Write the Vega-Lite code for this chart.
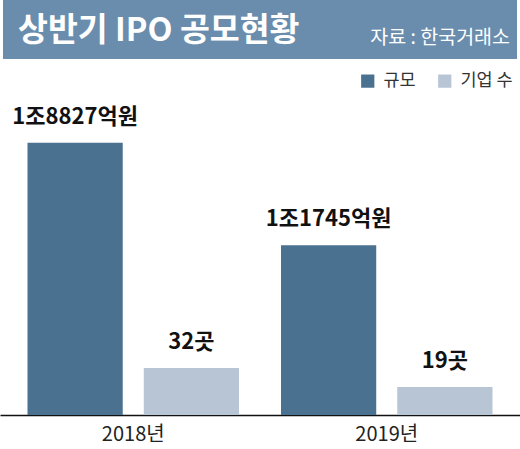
{
  "$schema": "https://vega.github.io/schema/vega-lite/v6.json",
  "padding": 0,
  "background": "white",
  "center": true,
  "spacing": 6,
  "config": {
    "view": {"stroke": null},
    "font": "Noto Sans CJK KR"
  },
  "datasets": {
    "ipo": [
      {"year": "2018년", "series": "규모", "value": 18827, "label": "1조8827억원"},
      {"year": "2018년", "series": "기업 수", "value": 32, "label": "32곳"},
      {"year": "2019년", "series": "규모", "value": 11745, "label": "1조1745억원"},
      {"year": "2019년", "series": "기업 수", "value": 19, "label": "19곳"}
    ],
    "header": [
      {"title": "상반기 IPO 공모현황", "source": "자료 : 한국거래소"}
    ]
  },
  "resolve": {
    "scale": {"x": "independent", "color": "independent"},
    "legend": {"color": "independent"}
  },
  "vconcat": [
    {
      "width": 514,
      "height": 59,
      "view": {"fill": "#6a8dad", "stroke": null},
      "data": {"name": "header"},
      "layer": [
        {
          "mark": {"type": "text", "align": "left", "baseline": "middle", "dx": 15, "dy": 1, "fontSize": 32.5, "fontWeight": "bold", "color": "white"},
          "encoding": {
            "x": {"datum": 0, "type": "quantitative", "scale": {"domain": [0, 1]}, "axis": null},
            "text": {"field": "title"}
          }
        },
        {
          "mark": {"type": "text", "align": "right", "baseline": "middle", "dx": -7, "dy": 8, "fontSize": 19.5, "color": "white"},
          "encoding": {
            "x": {"datum": 1, "type": "quantitative", "scale": {"domain": [0, 1]}, "axis": null},
            "text": {"field": "source"}
          }
        }
      ]
    },
    {
      "width": 520,
      "height": 350,
      "data": {"name": "ipo"},
      "encoding": {
        "x": {
          "field": "year",
          "type": "nominal",
          "scale": {"paddingInner": 0.1657, "paddingOuter": 0.1085},
          "axis": {
            "title": null,
            "labelAngle": 0,
            "ticks": false,
            "domainColor": "#111111",
            "domainWidth": 1.5,
            "labelFontSize": 20,
            "labelColor": "#222222",
            "labelPadding": 9,
            "labelFont": "Noto Sans CJK KR"
          }
        },
        "xOffset": {
          "field": "series",
          "scale": {"domain": ["규모", "기업 수"], "paddingInner": 0.181, "paddingOuter": 0}
        }
      },
      "layer": [
        {
          "transform": [{"filter": "datum.series === '규모'"}],
          "encoding": {
            "y": {"field": "value", "type": "quantitative", "scale": {"domain": [0, 24200]}, "axis": null}
          },
          "layer": [
            {
              "mark": {"type": "bar"},
              "encoding": {
                "color": {
                  "field": "series",
                  "type": "nominal",
                  "scale": {"domain": ["규모", "기업 수"], "range": ["#4b7191", "#b7c5d5"]},
                  "legend": {
                    "title": null,
                    "orient": "top-right",
                    "direction": "horizontal",
                    "offset": 7,
                    "padding": 0,
                    "symbolType": "square",
                    "symbolSize": 175,
                    "symbolStrokeWidth": 0,
                    "labelFontSize": 17.5,
                    "labelColor": "#333333",
                    "labelOffset": 7,
                    "columnPadding": 20,
                    "labelFont": "Noto Sans CJK KR"
                  }
                }
              }
            },
            {
              "mark": {"type": "text", "baseline": "bottom", "dy": -14, "fontSize": 22, "fontWeight": "bold", "color": "#111111"},
              "encoding": {"text": {"field": "label"}}
            }
          ]
        },
        {
          "transform": [{"filter": "datum.series === '기업 수'"}],
          "encoding": {
            "y": {"field": "value", "type": "quantitative", "scale": {"domain": [0, 238]}, "axis": null}
          },
          "layer": [
            {
              "mark": {"type": "bar"},
              "encoding": {
                "color": {
                  "field": "series",
                  "type": "nominal",
                  "scale": {"domain": ["규모", "기업 수"], "range": ["#4b7191", "#b7c5d5"]}
                }
              }
            },
            {
              "mark": {"type": "text", "baseline": "bottom", "dy": -14, "fontSize": 22, "fontWeight": "bold", "color": "#111111"},
              "encoding": {"text": {"field": "label"}}
            }
          ]
        }
      ],
      "resolve": {"scale": {"y": "independent"}}
    }
  ]
}
